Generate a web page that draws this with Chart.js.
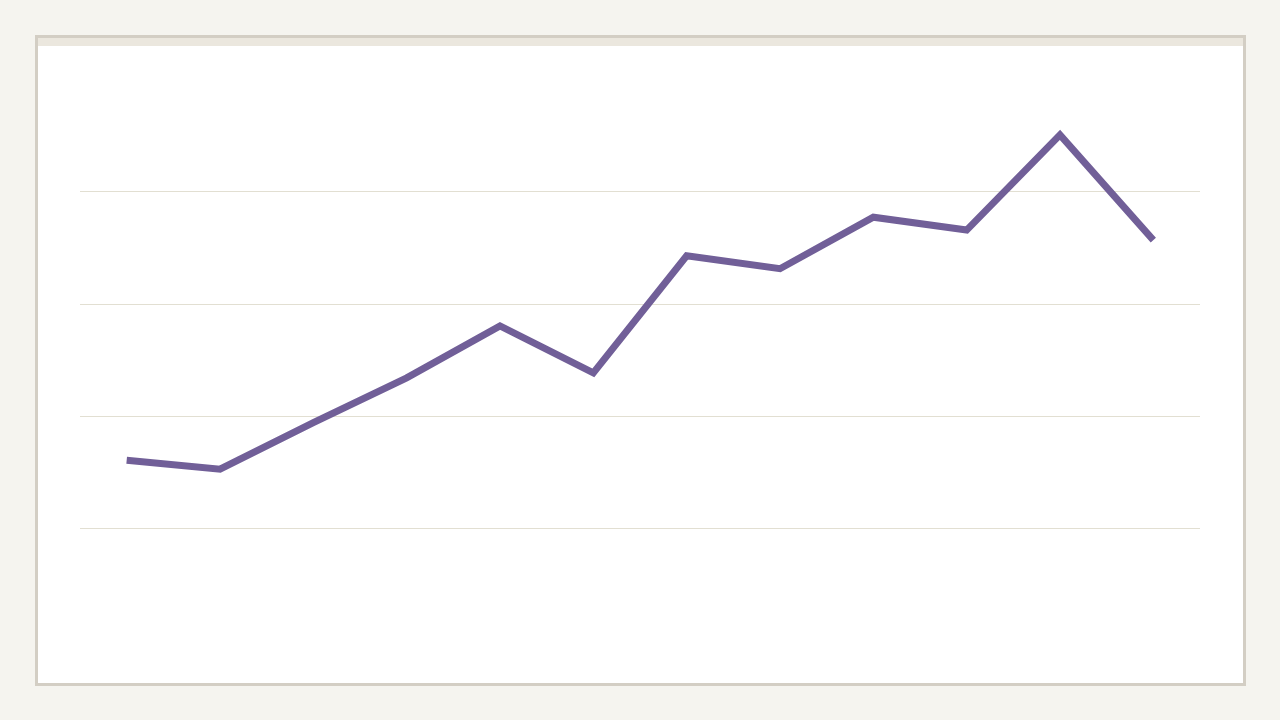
<!DOCTYPE html>
<html>
<head>
<meta charset="utf-8">
<script src="https://cdn.jsdelivr.net/npm/chart.js@4"></script>
<style>
  html, body { margin: 0; padding: 0; background: #f5f4ef; width: 1280px; height: 720px; overflow: hidden; }
  .card {
    position: absolute; left: 35px; top: 35px;
    width: 1205px; height: 645px;
    background: #fff; border: 3px solid #d3cec4;
  }
  .strip { height: 8px; background: #ebe7de; }
  #chart { position: absolute; left: 0; top: 0; }
</style>
</head>
<body>
<div class="card"><div class="strip"></div></div>
<canvas id="chart" width="1280" height="720"></canvas>
<script>
const labels = ["1", "2", "3", "4", "5", "6", "7", "8", "9", "10", "11", "12"];
const values = [32.1, 30.5, 38.8, 46.8, 56.1, 47.7, 68.6, 66.3, 75.5, 73.2, 90.2, 71.4];
const yTicks = [0, 20, 40, 60, 80, 100];

const ctx = document.getElementById("chart").getContext("2d");

new Chart(ctx, {
  type: "line",
  data: {
    labels: labels,
    datasets: [{
      data: values,
      borderColor: "#715f98",
      borderWidth: 7,
      pointRadius: 0,
      tension: 0,
      fill: false
    }]
  },
  options: {
    responsive: false,
    animation: false,
    devicePixelRatio: 1,
    layout: { padding: { left: 80, right: 80, top: 80, bottom: 80 } },
    plugins: { legend: { display: false }, tooltip: { enabled: false } },
    scales: {
      x: { display: false, offset: true },
      y: {
        min: yTicks[0],
        max: yTicks[yTicks.length - 1],
        afterBuildTicks: (axis) => { axis.ticks = yTicks.map(v => ({ value: v })); },
        ticks: { display: false },
        border: { display: false },
        grid: {
          drawTicks: false,
          lineWidth: 1,
          color: (c) => (c.tick.value === yTicks[0] || c.tick.value === yTicks[yTicks.length - 1]) ? "rgba(0,0,0,0)" : "#e2dfd2"
        }
      }
    }
  }
});
</script>
</body>
</html>
